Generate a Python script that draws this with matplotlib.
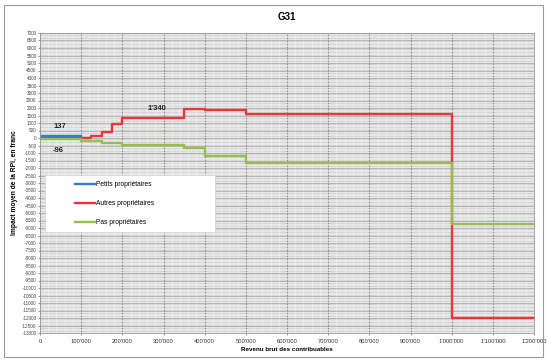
import numpy as np
import matplotlib.pyplot as plt
from matplotlib.patches import Rectangle
from matplotlib.ticker import MultipleLocator, FuncFormatter

plt.rcParams['font.family'] = ['Liberation Sans', 'DejaVu Sans']

# Data
blue_edges = [0, 100000]
blue_vals = [137]
red_edges = [0, 125000, 150000, 175000, 200000, 350000, 400000, 500000, 1000000, 1200000]
red_vals = [-30, 150, 430, 930, 1340, 1950, 1860, 1600, -12000]
green_edges = [0, 100000, 150000, 200000, 350000, 400000, 500000, 1000000, 1200000]
green_vals = [-96, -180, -330, -490, -680, -1230, -1660, -5700]
labels = ["Petits propriétaires", "Autres propriétaires", "Pas propriétaires"]
colors = ["#2f7fc6", "#e8363c", "#99bd4f"]
notes = [("137", 48000, 780), ("1'340", 283000, 2000), ("-96", 45000, -850)]


def step_xy(edges, vals):
    x = np.array(edges, dtype=float)
    y = np.append(vals, vals[-1])
    return x, y


fig = plt.figure(figsize=(5.47, 3.62), dpi=100)
fig.patches.append(Rectangle((4 / 547, 5 / 362), 539 / 547, 352 / 362,
                             transform=fig.transFigure, fill=False,
                             edgecolor='#9a9a9a', lw=0.8))
ax = fig.add_axes([40 / 547, 1 - 333 / 362, 494 / 547, 300 / 362])
ax.set_facecolor('#d6d6d6')

handles = []
for edges, vals, c, lab in [(red_edges, red_vals, colors[1], labels[1]),
                            (green_edges, green_vals, colors[2], labels[2]),
                            (blue_edges, blue_vals, colors[0], labels[0])]:
    x, y = step_xy(edges, vals)
    h, = ax.step(x, y, where='post', color=c, lw=1.7, label=lab)
    handles.append(h)

ax.set_xlim(0, 1200000)
ax.set_ylim(-13000, 7000)
ax.xaxis.set_major_locator(MultipleLocator(100000))
ax.xaxis.set_minor_locator(MultipleLocator(20000))
ax.yaxis.set_major_locator(MultipleLocator(500))
ax.yaxis.set_minor_locator(MultipleLocator(100))
ax.xaxis.set_major_formatter(FuncFormatter(lambda v, p: f"{int(v):,}".replace(",", "'")))
ax.yaxis.set_major_formatter(FuncFormatter(lambda v, p: f"{int(v)}"))
ax.tick_params(axis='y', labelsize=3.3, length=1.5, width=0.4, pad=1, colors='#444444')
ax.tick_params(axis='x', labelsize=4.2, length=1.5, width=0.4, pad=3, colors='#333333')
ax.tick_params(which='minor', length=0)

ax.grid(which='minor', color='#f2f2f2', lw=0.45)
ax.grid(which='major', axis='y', color='#a8a8a8', lw=0.5)
ax.grid(which='major', axis='x', color='#8e8e8e', lw=0.8)
ax.set_axisbelow(True)
for s in ax.spines.values():
    s.set_color('#9a9a9a')
    s.set_linewidth(0.6)

ax.set_title("G31", fontsize=7, fontweight='bold', pad=9)
ax.set_xlabel("Revenu brut des contribuables", fontsize=4.5, fontweight='bold', labelpad=2)
ax.set_ylabel("Impact moyen de la RPI, en franc", fontsize=4.8, fontweight='bold', labelpad=3)

for txt, x, y in notes:
    ax.text(x, y, txt, fontsize=5.5, fontweight='bold', ha='center', va='center', color='#222222')

# legend box
ax.add_patch(Rectangle((0.011, 0.337), 0.343, 0.19, transform=ax.transAxes,
                       facecolor='white', edgecolor='#cccccc', lw=0.4, zorder=4))
order = [handles[2], handles[0], handles[1]]
leg = ax.legend(order, labels, loc='upper left', bbox_to_anchor=(0.066, 0.515),
                frameon=False, fontsize=4.8, handlelength=2.9, handletextpad=0.2,
                labelspacing=1.8, borderaxespad=0)
leg.set_zorder(5)

fig.savefig("out.png", dpi=100)
